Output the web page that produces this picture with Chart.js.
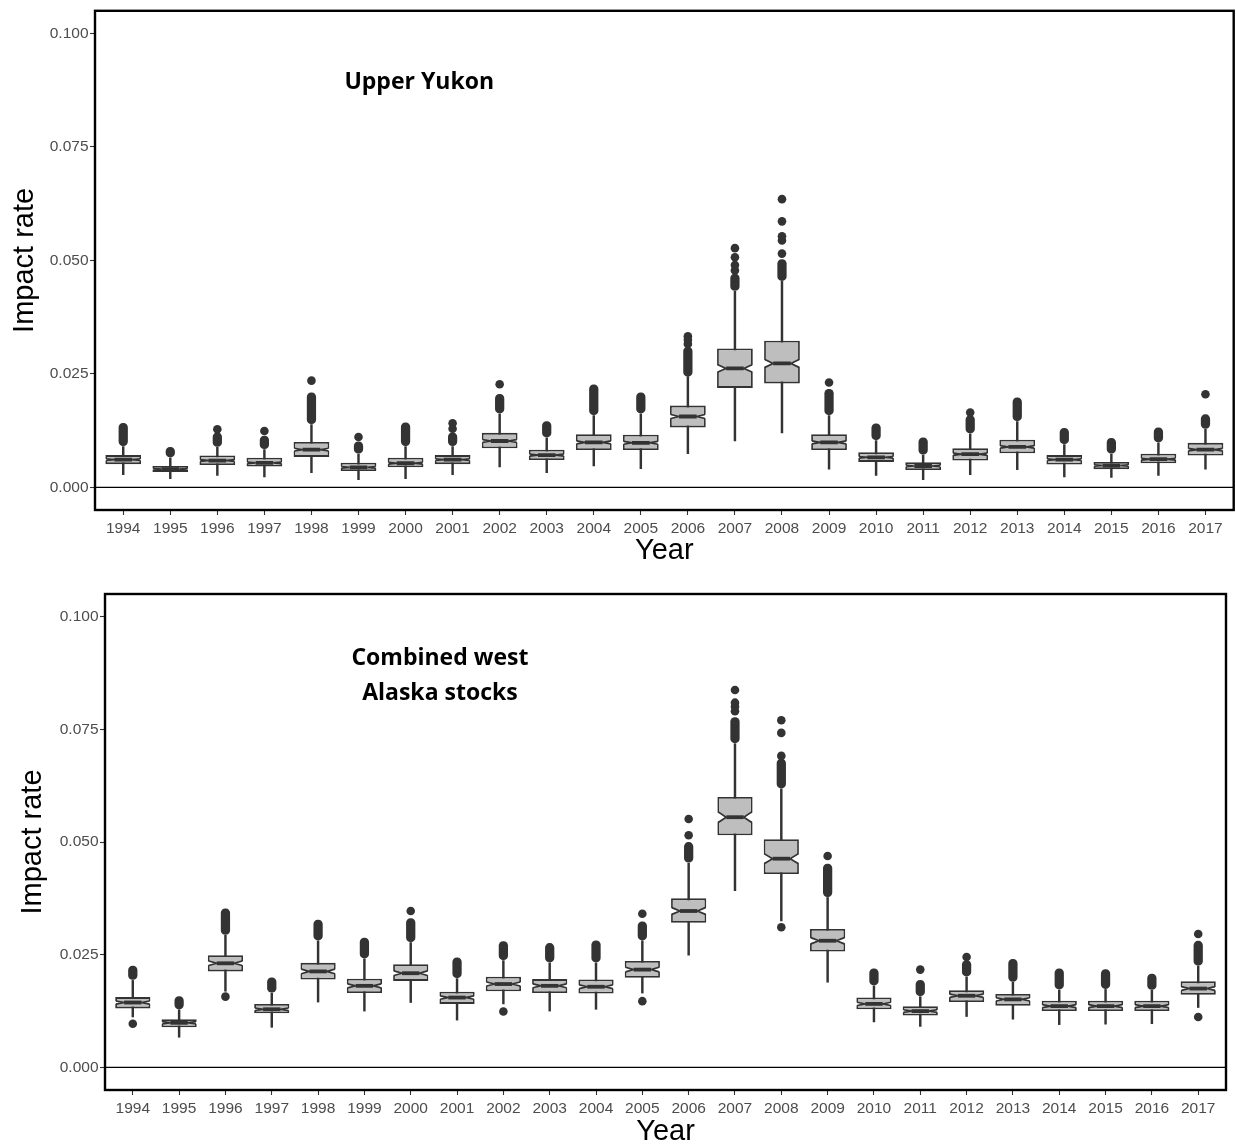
<!DOCTYPE html>
<html><head><meta charset="utf-8">
<script src="https://cdn.jsdelivr.net/npm/chart.js@4.4.1/dist/chart.umd.min.js"></script>
<style>
html,body{margin:0;padding:0;background:#fff;overflow:hidden;width:1236px;height:1145px;}
.p{position:absolute;left:0;}
#w1{top:0;width:1238px;height:575px;}
#w2{top:580px;width:1236px;height:570px;}
</style></head><body>
<div class="p" id="w1"><canvas id="c1"></canvas></div>
<div class="p" id="w2"><canvas id="c2"></canvas></div>
<script>
const years = [1994,1995,1996,1997,1998,1999,2000,2001,2002,2003,2004,2005,2006,2007,2008,2009,2010,2011,2012,2013,2014,2015,2016,2017];
const yTicks = [0, 0.025, 0.05, 0.075, 0.1];

// Upper Yukon
const yukonLow    = [0.0028,0.0019,0.0026,0.0023,0.0032,0.0017,0.0019,0.0028,0.0045,0.0032,0.0047,0.0041,0.0074,0.0102,0.0120,0.0040,0.0026,0.0017,0.0028,0.0039,0.0023,0.0022,0.0026,0.0040];
const yukonQ1     = [0.0051,0.0034,0.0049,0.0046,0.0067,0.0036,0.0044,0.0051,0.0086,0.0060,0.0082,0.0082,0.0132,0.0219,0.0229,0.0082,0.0056,0.0038,0.0059,0.0075,0.0050,0.0040,0.0053,0.0070];
const yukonMedian = [0.0061,0.0040,0.0059,0.0054,0.0083,0.0044,0.0053,0.0061,0.0102,0.0071,0.0099,0.0098,0.0156,0.0262,0.0273,0.0099,0.0066,0.0047,0.0073,0.0089,0.0061,0.0048,0.0062,0.0083];
const yukonQ3     = [0.0071,0.0047,0.0070,0.0065,0.0100,0.0054,0.0065,0.0071,0.0120,0.0083,0.0117,0.0116,0.0180,0.0306,0.0323,0.0117,0.0077,0.0055,0.0086,0.0105,0.0071,0.0056,0.0074,0.0098];
const yukonHigh   = [0.0090,0.0065,0.0088,0.0083,0.0138,0.0073,0.0090,0.0090,0.0162,0.0109,0.0158,0.0162,0.0244,0.0432,0.0455,0.0158,0.0103,0.0071,0.0118,0.0145,0.0094,0.0073,0.0098,0.0128];
const yukonClusterLow  = [0.0092,0.0067,0.0090,0.0085,0.0140,0.0075,0.0092,0.0092,0.0164,0.0111,0.0160,0.0164,0.0245,0.0434,0.0456,0.0160,0.0105,0.0073,0.0120,0.0147,0.0096,0.0075,0.0100,0.0130];
const yukonClusterHigh = [0.0141,0.0088,0.0120,0.0113,0.0208,0.0100,0.0142,0.0120,0.0205,0.0145,0.0226,0.0208,0.0309,0.0470,0.0502,0.0216,0.0140,0.0109,0.0158,0.0197,0.0130,0.0108,0.0131,0.0160];
const yukonOutliers = [[],[],[0.0128],[0.0124],[0.0235],[0.0111],[],[0.0129,0.0141],[0.0227],[],[],[],[0.0316,0.0325,0.0333],[0.0478,0.0490,0.0507,0.0527],[0.0515,0.0544,0.0553,0.0586,0.0635],[0.0231],[],[],[0.0165],[],[],[],[],[0.0205]];

// Combined west Alaska stocks
const westLow    = [0.0112,0.0067,0.0169,0.0089,0.0145,0.0125,0.0144,0.0105,0.0141,0.0125,0.0129,0.0165,0.0249,0.0392,0.0325,0.0189,0.0101,0.0091,0.0113,0.0107,0.0095,0.0096,0.0097,0.0133];
const westQ1     = [0.0131,0.0089,0.0213,0.0120,0.0195,0.0165,0.0192,0.0141,0.0169,0.0165,0.0164,0.0199,0.0321,0.0515,0.0429,0.0257,0.0129,0.0115,0.0145,0.0137,0.0125,0.0125,0.0125,0.0161];
const westMedian = [0.0144,0.0099,0.0231,0.0129,0.0213,0.0181,0.0209,0.0155,0.0185,0.0181,0.0179,0.0217,0.0347,0.0555,0.0463,0.0281,0.0141,0.0125,0.0159,0.0151,0.0136,0.0136,0.0136,0.0175];
const westQ3     = [0.0156,0.0107,0.0249,0.0141,0.0232,0.0197,0.0229,0.0168,0.0201,0.0196,0.0195,0.0236,0.0375,0.0600,0.0506,0.0307,0.0155,0.0136,0.0171,0.0163,0.0148,0.0148,0.0148,0.0191];
const westHigh   = [0.0193,0.0128,0.0293,0.0165,0.0281,0.0241,0.0277,0.0197,0.0237,0.0232,0.0232,0.0281,0.0453,0.0718,0.0618,0.0377,0.0181,0.0157,0.0201,0.0189,0.0172,0.0173,0.0171,0.0225];
const westClusterLow  = [0.0195,0.0130,0.0295,0.0167,0.0283,0.0243,0.0279,0.0199,0.0239,0.0234,0.0234,0.0283,0.0455,0.0720,0.0620,0.0379,0.0183,0.0159,0.0203,0.0191,0.0174,0.0175,0.0173,0.0227];
const westClusterHigh = [0.0225,0.0157,0.0352,0.0199,0.0327,0.0287,0.0330,0.0243,0.0279,0.0275,0.0281,0.0323,0.0499,0.0776,0.0684,0.0451,0.0219,0.0193,0.0237,0.0240,0.0219,0.0217,0.0207,0.0280];
const westOutliers = [[0.0097],[],[0.0157],[],[],[],[0.0347],[],[0.0124],[],[],[0.0147,0.0341],[0.0515,0.0551],[0.0790,0.0800,0.0809,0.0837],[0.0311,0.0691,0.0742,0.0770],[0.0469],[],[0.0217],[0.0245],[],[],[],[],[0.0112,0.0296]];

const DARK = '#333333';
const halfBox = chart => {
  const x = chart.scales.x;
  return Math.abs(x.getPixelForValue(1995) - x.getPixelForValue(1994)) * 0.375;
};

const framePlugin = {
  id: 'frame',
  beforeDatasetsDraw(chart) {
    const {ctx, chartArea: a, scales: {y}} = chart;
    const y0 = y.getPixelForValue(0);
    ctx.save();
    ctx.strokeStyle = '#000';
    ctx.lineWidth = 1.2;
    ctx.beginPath(); ctx.moveTo(a.left, y0); ctx.lineTo(a.right, y0); ctx.stroke();
    ctx.restore();
  },
  afterDatasetDraw(chart, args) {
    if (args.index !== 1) return;
    const opts = chart.options.plugins.frame;
    const s = opts.series;
    const {ctx, scales: {y}} = chart;
    ctx.save();
    args.meta.data.forEach((el, i) => {
      const w = el.width, xl = el.x - w / 2, xr = el.x + w / 2;
      const ym = y.getPixelForValue(s.med[i]);
      const nh = Math.abs(y.getPixelForValue(s.med[i] + 1.58 * (s.q3[i] - s.q1[i]) / Math.sqrt(opts.notchN)) - ym);
      const inset = w * 0.25;
      ctx.fillStyle = '#ffffff';
      ctx.beginPath();
      ctx.moveTo(xl - 1, ym - nh); ctx.lineTo(xl + inset, ym); ctx.lineTo(xl - 1, ym + nh); ctx.closePath(); ctx.fill();
      ctx.beginPath();
      ctx.moveTo(xr + 1, ym - nh); ctx.lineTo(xr - inset, ym); ctx.lineTo(xr + 1, ym + nh); ctx.closePath(); ctx.fill();
      ctx.strokeStyle = DARK; ctx.lineWidth = 1.7;
      ctx.beginPath();
      ctx.moveTo(xl + 0.85, ym - nh); ctx.lineTo(xl + inset, ym); ctx.lineTo(xl + 0.85, ym + nh);
      ctx.moveTo(xr - 0.85, ym - nh); ctx.lineTo(xr - inset, ym); ctx.lineTo(xr - 0.85, ym + nh);
      ctx.stroke();
    });
    ctx.restore();
  },
  afterDraw(chart) {
    const {ctx, chartArea: a, scales: {x, y}} = chart;
    const opts = chart.options.plugins.frame;
    ctx.save();
    ctx.strokeStyle = '#000';
    ctx.lineWidth = 2.4;
    ctx.strokeRect(a.left, a.top, a.right - a.left, a.bottom - a.top);
    ctx.fillStyle = '#000';
    ctx.font = 'bold 23px "Open Sans"';
    ctx.textAlign = 'center';
    ctx.textBaseline = 'alphabetic';
    opts.labels.forEach(l => ctx.fillText(l.text, x.getPixelForValue(l.x), y.getPixelForValue(l.y)));
    ctx.restore();
  }
};

function makeChart(id, s, cfg) {
  const whiskers = {type: 'bar', label: 'whisker', data: years.map((yr, i) => ({x: yr, y: [s.low[i], s.high[i]]})),
    backgroundColor: DARK, barThickness: 1.8, grouped: false, order: 5};
  const boxes = {type: 'bar', label: 'box', data: years.map((yr, i) => ({x: yr, y: [s.q1[i], s.q3[i]]})),
    backgroundColor: '#bebebe', borderColor: DARK, borderWidth: 1.8, borderSkipped: false,
    grouped: false, categoryPercentage: 1, barPercentage: 0.76, order: 4};
  const clusters = {type: 'bar', label: 'outlier cluster', data: years.map((yr, i) => ({x: yr, y: [s.cLo[i], s.cHi[i]]})),
    backgroundColor: DARK, barThickness: 8.6, borderRadius: 4.3, borderSkipped: false, grouped: false, order: 3};
  const pts = [];
  years.forEach((yr, i) => s.out[i].forEach(v => pts.push({x: yr, y: v})));
  const outliers = {type: 'scatter', label: 'outliers', data: pts, pointRadius: 4.3, pointBackgroundColor: DARK,
    pointBorderWidth: 0, order: 2};
  const medians = {type: 'scatter', label: 'median', data: years.map((yr, i) => ({x: yr, y: s.med[i]})),
    pointStyle: 'line', pointRadius: ctx => halfBox(ctx.chart) * 0.5, pointBorderColor: DARK,
    pointBackgroundColor: DARK, pointBorderWidth: 3.8, order: 1};

  return new Chart(document.getElementById(id), {
    type: 'bar',
    data: {datasets: [whiskers, boxes, clusters, outliers, medians]},
    options: {
      responsive: true, maintainAspectRatio: false, animation: false, events: [],
      layout: {padding: cfg.padding},
      plugins: {legend: {display: false}, tooltip: {enabled: false},
        frame: {series: s, notchN: cfg.notchN, labels: cfg.labels}},
      scales: {
        x: {type: 'linear', min: 1993.4, max: 2017.6, offset: false,
          afterBuildTicks: sc => { sc.ticks = years.map(v => ({value: v})); },
          afterFit: sc => { sc.height = cfg.xHeight; },
          ticks: {callback: v => String(v), autoSkip: false, maxRotation: 0, padding: 4,
            color: '#4d4d4d', font: {family: 'Liberation Sans', size: 15.5}},
          grid: {display: true, drawOnChartArea: false, drawTicks: true, tickLength: 5, tickColor: DARK, tickWidth: 1.1, offset: false},
          border: {display: false},
          title: {display: true, text: 'Year', color: '#000', font: {family: 'Liberation Sans', size: 29, lineHeight: 1},
            padding: {top: 0, bottom: cfg.xTitlePad}}
        },
        y: {type: 'linear', min: -0.005, max: 0.105,
          afterBuildTicks: sc => { sc.ticks = yTicks.map(v => ({value: v})); },
          afterFit: sc => { sc.width = cfg.yWidth; },
          ticks: {callback: v => v.toFixed(3), padding: 1.5, color: '#4d4d4d', font: {family: 'Liberation Sans', size: 15.5}},
          grid: {display: true, drawOnChartArea: false, drawTicks: true, tickLength: 5, tickColor: DARK, tickWidth: 1.1},
          border: {display: false},
          title: {display: true, text: 'Impact rate', color: '#000', font: {family: 'Liberation Sans', size: 29, lineHeight: 1},
            padding: {top: cfg.yTitlePad, bottom: 0}}
        }
      }
    },
    plugins: [framePlugin]
  });
}

makeChart('c1', {low: yukonLow, q1: yukonQ1, med: yukonMedian, q3: yukonQ3, high: yukonHigh,
  cLo: yukonClusterLow, cHi: yukonClusterHigh, out: yukonOutliers},
  {padding: {left: 0, top: 6.7, right: 1, bottom: 0}, yWidth: 95, xHeight: 65, xTitlePad: 9.5, yTitlePad: 10, notchN: 290,
   labels: [{text: 'Upper Yukon', x: 2000.29, y: 0.0877}]});

makeChart('c2', {low: westLow, q1: westQ1, med: westMedian, q3: westQ3, high: westHigh,
  cLo: westClusterLow, cHi: westClusterHigh, out: westOutliers},
  {padding: {left: 0, top: 14, right: 10, bottom: 0}, yWidth: 105, xHeight: 60, xTitlePad: 3.5, yTitlePad: 18, notchN: 130,
   labels: [{text: 'Combined west', x: 2000.63, y: 0.0893}, {text: 'Alaska stocks', x: 2000.63, y: 0.0815}]});
</script>
</body></html>
